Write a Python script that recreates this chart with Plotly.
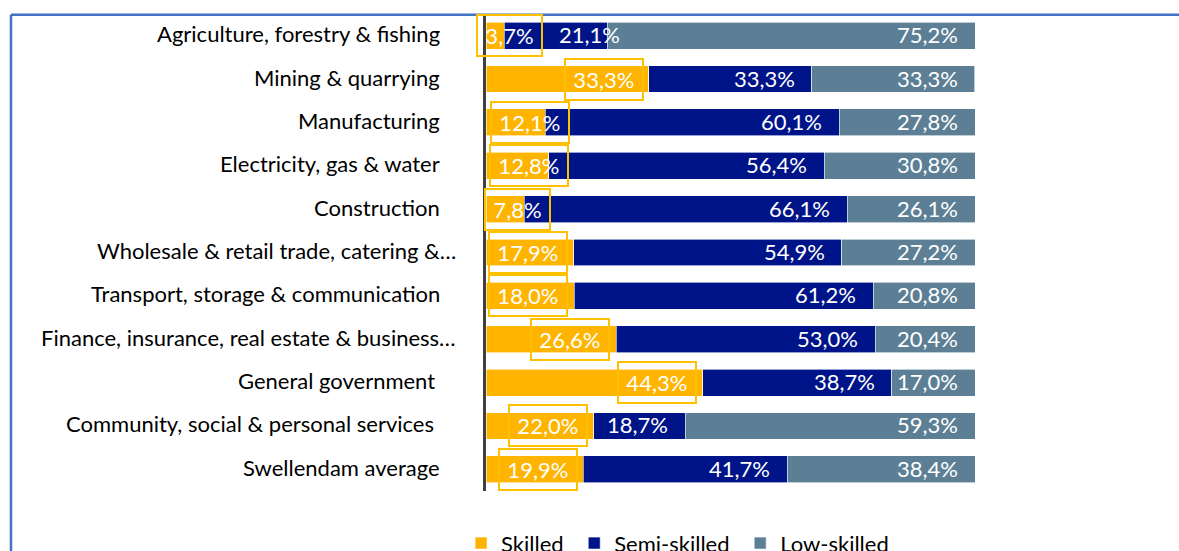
import plotly.graph_objects as go

# Occupational skill distribution by sector (percent of employment)
categories = [
    "Agriculture, forestry & fishing",
    "Mining & quarrying",
    "Manufacturing",
    "Electricity, gas & water",
    "Construction",
    "Wholesale & retail trade, catering &…",
    "Transport, storage & communication",
    "Finance, insurance, real estate & business…",
    "General government",
    "Community, social & personal services",
    "Swellendam average",
]
skilled = [3.7, 33.3, 12.1, 12.8, 7.8, 17.9, 18.0, 26.6, 44.3, 22.0, 19.9]
semi_skilled = [21.1, 33.3, 60.1, 56.4, 66.1, 54.9, 61.2, 53.0, 38.7, 18.7, 41.7]
low_skilled = [75.2, 33.3, 27.8, 30.8, 26.1, 27.2, 20.8, 20.4, 17.0, 59.3, 38.4]

# Placement of the boxed "Skilled" labels along the value axis
skilled_label_x = [4.8, 24.2, 8.9, 8.7, 6.4, 8.5, 8.5, 17.2, 34.9, 12.7, 10.7]
# Horizontal nudge (px) of each category label relative to the common right edge
category_label_shift = [0, 0, 0, 0, 0, 16, 0, 16, -5, -6, 0]
# Offset (px) of the semi-skilled labels from the segment end
semi_label_shift = [15, -15, -15, -15, -15, -15, -15, -15, -15, -15, -15]

C_SKILLED = "#FFB400"
C_SEMI = "#001489"
C_LOW = "#5C7F96"
FONT = "Lato"
FS = 22
HAIR = "\u200a"
NBSP = "\u00a0"

def pct(v):
    return f"{v:.1f}%".replace(".", ",")

fig = go.Figure()
for name, vals, col in [("Skilled" + NBSP, skilled, C_SKILLED),
                        ("Semi-skilled" + NBSP, semi_skilled, C_SEMI),
                        ("Low-skilled", low_skilled, C_LOW)]:
    fig.add_trace(go.Bar(
        name=name, x=vals, y=categories, orientation="h",
        marker=dict(color=col, line=dict(color="white", width=0.6)),
        hoverinfo="skip",
    ))

annotations = []
# Category names, right-aligned next to the axis
for cat, dx in zip(categories, category_label_shift):
    annotations.append(dict(
        x=0, y=cat, xref="paper", yref="y", text=cat, showarrow=False,
        xanchor="right", xshift=-44 + dx, yshift=2,
        font=dict(family=FONT, size=FS, color="#000000"),
    ))
# Boxed labels for the skilled share
for cat, v, lx in zip(categories, skilled, skilled_label_x):
    annotations.append(dict(
        x=lx, y=cat, xref="x", yref="y", text=HAIR + pct(v) + HAIR, showarrow=False,
        font=dict(family=FONT, size=FS, color="white"),
        bordercolor="#FFC000", borderwidth=2, borderpad=6, yshift=0,
    ))
# Inside-end labels for semi- and low-skilled segments
for cat, s, m, l, ds in zip(categories, skilled, semi_skilled, low_skilled, semi_label_shift):
    for end, v, dx in [(s + m, m, ds), (s + m + l, l, -15)]:
        annotations.append(dict(
            x=end, y=cat, xref="x", yref="y", text=pct(v), showarrow=False,
            xanchor="right", xshift=dx, yshift=1,
            font=dict(family=FONT, size=FS, color="white"),
        ))

# Outer frame of the chart
frame = dict(color="#4472C4", width=2.5)
shapes = [
    dict(type="line", xref="paper", yref="paper", x0=-0.9714, x1=1.45, y0=0.9985, y1=0.9985, line=frame),
    dict(type="line", xref="paper", yref="paper", x0=-0.9714, x1=-0.9714, y0=0.9985, y1=-0.15, line=frame),
]

fig.update_layout(
    barmode="stack",
    bargap=0.38,
    width=1179, height=551,
    margin=dict(l=486, r=204, t=14, b=60),
    paper_bgcolor="white", plot_bgcolor="white",
    font=dict(family=FONT, size=FS, color="#000000"),
    xaxis=dict(range=[0, 100], visible=False, fixedrange=True),
    yaxis=dict(
        autorange="reversed", showgrid=False, zeroline=False,
        showline=True, linecolor="#404040", linewidth=3,
        ticks="", showticklabels=False,
    ),
    legend=dict(
        orientation="h", x=-0.051, xanchor="left",
        yref="container", y=0.014, yanchor="middle",
        font=dict(family=FONT, size=FS, color="#000000"),
        traceorder="normal",
    ),
    annotations=annotations,
    shapes=shapes,
)

fig.write_html("out.html")
